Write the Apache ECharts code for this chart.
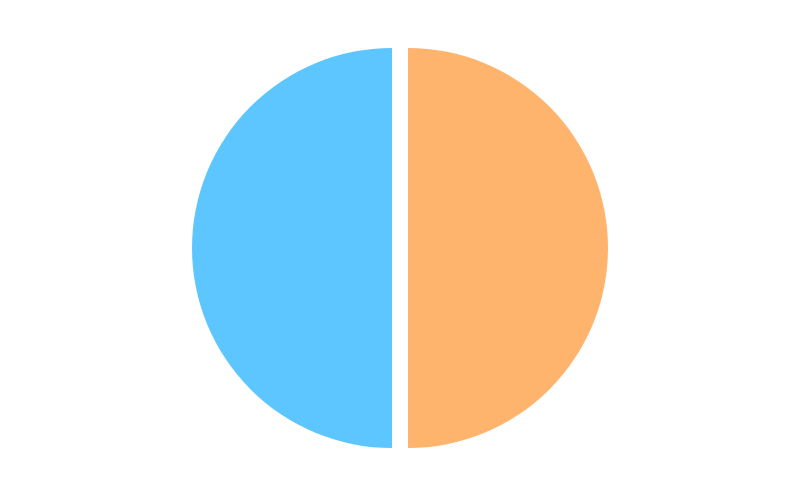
<!DOCTYPE html>
<html>
<head>
<meta charset="utf-8">
<script src="https://cdn.jsdelivr.net/npm/echarts@6/dist/echarts.min.js"></script>
<style>html,body{margin:0;padding:0;background:#fff;}#main{width:800px;height:496px;}</style>
</head>
<body>
<div id="main"></div>
<script>
var categories = ['B', 'A'];
var values = [50, 50];
var colors = ['#FFB46E', '#5EC6FF'];

var chart = echarts.init(document.getElementById('main'), null, {renderer: 'canvas'});
chart.setOption({
  animation: false,
  series: [{
    type: 'pie',
    center: ['50%', '50%'],
    radius: 200,
    selectedMode: 'multiple',
    selectedOffset: 8,
    label: {show: false},
    labelLine: {show: false},
    emphasis: {disabled: true},
    data: categories.map(function (c, i) {
      return {name: c, value: values[i], selected: true, itemStyle: {color: colors[i]}};
    })
  }]
});
</script>
</body>
</html>
